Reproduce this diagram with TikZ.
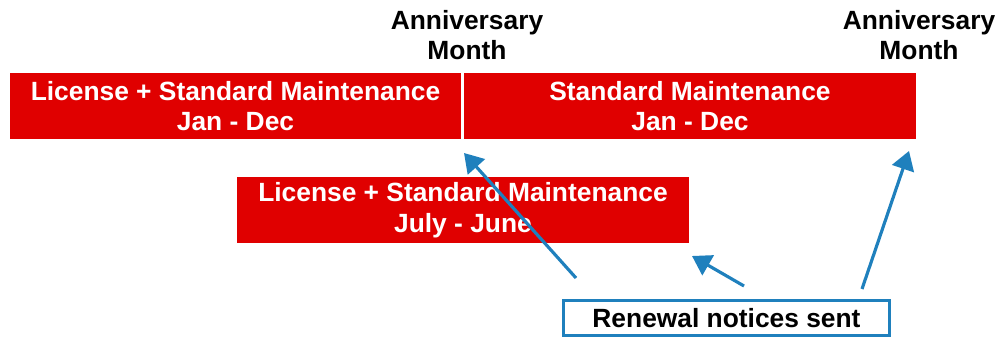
\documentclass[tikz,border=0pt]{standalone}
\usepackage{fontspec}
\setmainfont{Liberation Sans}
\usetikzlibrary{arrows.meta, positioning}
\definecolor{barred}{RGB}{224,0,0}
\definecolor{noteblue}{RGB}{31,128,189}

\begin{document}
\begin{tikzpicture}[x=0.03cm, y=-0.03cm, >={Triangle[length=0.56cm, width=0.68cm]}, font=\fontsize{22.5}{26}\selectfont\bfseries]
\tikzset{bar/.style={fill=barred, text=white, align=center, minimum height=1.98cm, inner sep=0pt}, anniv/.style={align=center, inner sep=0pt}, notebox/.style={draw=noteblue, line width=2.6pt, fill=white, minimum width=9.8cm, minimum height=1.05cm, inner sep=0pt}, ptr/.style={->, draw=noteblue, fill=noteblue, line width=2.7pt}}
\useasboundingbox (0,0) rectangle (1000,337);
% maintenance periods
\node[bar, minimum width=13.53cm] (lic1) at (235.5,106) {License + Standard Maintenance\\Jan - Dec};
\node[bar, minimum width=13.56cm] (std) at (690,106) {Standard Maintenance\\Jan - Dec};
\node[bar, minimum width=13.56cm] (lic2) at (463,210) {License + Standard Maintenance\\July - June};
\node[anniv] (am1) at (467,35) {Anniversary\\Month};
\node[anniv] (am2) at (919,35) {Anniversary\\Month};
\node[notebox] (sent) at (726.5,318) {Renewal notices sent};
% arrow ends
\coordinate (s1) at (576,278); \coordinate (e1) at (464,153);
\coordinate (s2) at (744,286); \coordinate (e2) at (692,256);
\coordinate (s3) at (862,289); \coordinate (e3) at (909,151);
\draw[ptr] (s1) -- (e1); \draw[ptr] (s2) -- (e2); \draw[ptr] (s3) -- (e3);
\end{tikzpicture}
\end{document}
